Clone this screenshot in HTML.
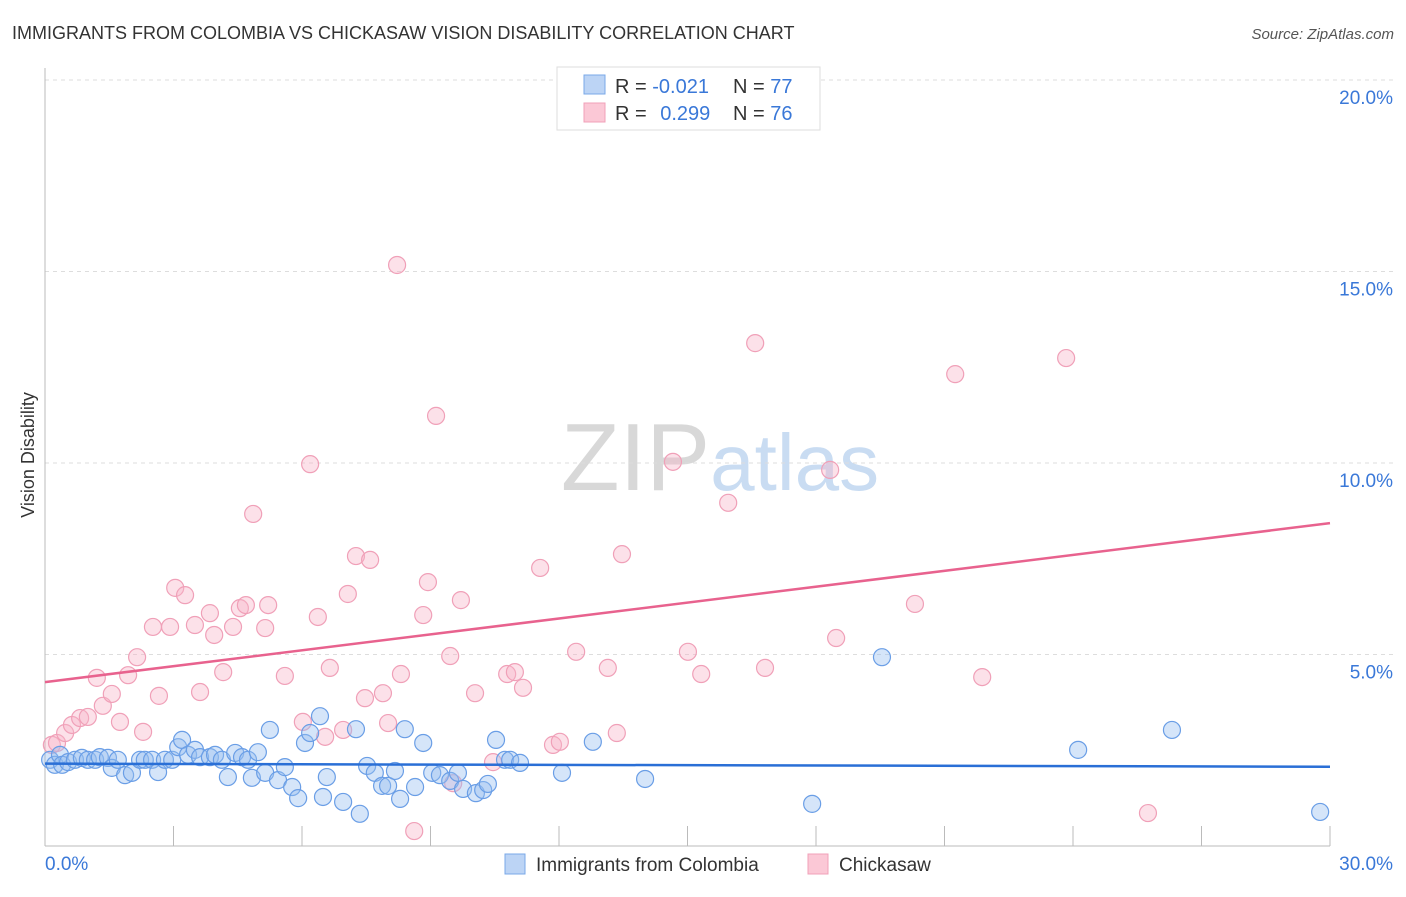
<!DOCTYPE html>
<html><head><meta charset="utf-8"><style>
body{margin:0;background:#fff;font-family:"Liberation Sans",sans-serif;}
svg text{font-family:"Liberation Sans",sans-serif;}
</style></head><body>
<svg id="chart" width="1406" height="892" xmlns="http://www.w3.org/2000/svg">
<text x="12" y="39" font-size="18" fill="#333">IMMIGRANTS FROM COLOMBIA VS CHICKASAW VISION DISABILITY CORRELATION CHART</text>
<text x="1394" y="39" font-size="15" fill="#555" font-style="italic" text-anchor="end">Source: ZipAtlas.com</text>
<text x="720" y="490" font-size="96" text-anchor="middle" fill="#ddd" font-family="Liberation Serif"><tspan fill="#d8d8d8">ZIP</tspan><tspan fill="#c9dcf2" font-family="Liberation Sans" font-size="80">atlas</tspan></text>
<text transform="translate(34,455) rotate(-90)" font-size="18" fill="#333" text-anchor="middle">Vision Disability</text>
<g id="grid"></g><g id="axes"></g><g id="marks"></g>
<g>
<rect x="557" y="67" width="263" height="63" fill="#fff" stroke="#ddd"/>
<rect x="584" y="75" width="21" height="19" fill="#bcd4f5" stroke="#7aa8e8"/>
<rect x="584" y="103" width="21" height="19" fill="#fbc8d6" stroke="#f0a0b8"/>
<text x="615" y="93" font-size="20" fill="#333">R = <tspan fill="#3a78d8">-0.021</tspan></text>
<text x="733" y="93" font-size="20" fill="#333">N = <tspan fill="#3a78d8">77</tspan></text>
<text x="615" y="120" font-size="20" fill="#333">R = <tspan fill="#3a78d8" dx="8">0.299</tspan></text>
<text x="733" y="120" font-size="20" fill="#333">N = <tspan fill="#3a78d8">76</tspan></text>
</g>
<g>
<rect x="505" y="854" width="20" height="20" fill="#bcd4f5" stroke="#7aa8e8"/>
<text x="536" y="871" font-size="19" fill="#333">Immigrants from Colombia</text>
<rect x="808" y="854" width="20" height="20" fill="#fbc8d6" stroke="#f0a0b8"/>
<text x="839" y="871" font-size="19" fill="#333">Chickasaw</text>
</g>
</svg>
<script>
const yTicks=[5,10,15,20];
const yTickLabels=["5.0%","10.0%","15.0%","20.0%"];
const xTickLabels=["0.0%","30.0%"];
const blueX=[0.12,0.23,0.35,0.40,0.54,0.70,0.86,1.00,1.17,1.28,1.47,1.56,1.70,1.87,2.03,2.22,2.33,2.50,2.64,2.80,2.97,3.11,3.20,3.34,3.50,3.62,3.85,3.97,4.13,4.27,4.44,4.60,4.74,4.83,4.97,5.14,5.25,5.44,5.60,5.77,5.91,6.07,6.19,6.42,6.49,6.58,6.96,7.26,7.35,7.52,7.70,7.87,8.01,8.17,8.29,8.40,8.64,8.83,9.04,9.22,9.46,9.64,9.76,10.06,10.23,10.34,10.53,10.74,10.86,11.09,12.07,12.79,14.01,17.91,19.54,24.12,26.31,29.77];
const blueY=[2.25,2.12,2.38,2.12,2.19,2.25,2.30,2.25,2.25,2.32,2.30,2.04,2.25,1.85,1.91,2.25,2.25,2.25,1.93,2.25,2.25,2.58,2.77,2.38,2.51,2.32,2.32,2.38,2.25,1.80,2.43,2.32,2.25,1.78,2.45,1.91,3.03,1.72,2.06,1.54,1.25,2.69,2.95,3.39,1.28,1.80,1.15,3.05,0.84,2.09,1.91,1.57,1.57,1.96,1.23,3.05,1.54,2.69,1.91,1.85,1.70,1.91,1.49,1.38,1.46,1.62,2.77,2.25,2.25,2.17,1.91,2.72,1.75,1.10,4.93,2.51,3.03,0.89];
const pinkX=[0.16,0.28,0.47,0.63,0.82,1.00,1.21,1.35,1.56,1.75,1.94,2.15,2.29,2.52,2.66,2.92,3.04,3.27,3.50,3.62,3.85,3.95,4.16,4.39,4.55,4.69,4.86,5.14,5.21,5.60,6.02,6.19,6.37,6.54,6.65,6.96,7.07,7.26,7.47,7.59,7.89,8.01,8.22,8.31,8.62,8.83,8.94,9.13,9.46,9.71,10.04,10.46,10.79,10.97,11.16,11.56,11.86,12.02,12.40,13.14,13.35,13.47,14.66,15.01,15.32,15.95,16.58,16.81,18.33,18.47,20.31,21.25,21.88,23.84,25.75,9.53];
const pinkY=[2.64,2.69,2.95,3.16,3.34,3.37,4.39,3.66,3.97,3.24,4.46,4.93,2.98,5.72,3.92,5.72,6.74,6.55,5.77,4.02,6.08,5.51,4.54,5.72,6.21,6.29,8.67,5.69,6.29,4.44,3.24,9.97,5.98,2.85,4.65,3.03,6.58,7.57,3.86,7.47,3.99,3.21,15.17,4.49,0.39,6.03,6.89,11.23,4.96,6.42,3.99,2.19,4.49,4.54,4.13,7.26,2.64,2.72,5.07,4.65,2.95,7.62,10.03,5.07,4.49,8.96,13.13,4.65,9.82,5.43,6.32,12.32,4.41,12.74,0.86,1.64];
const blueTrend=[2.15,2.07];
const pinkTrend=[4.28,8.43];

const NS="http://www.w3.org/2000/svg";
const X0=45,X1=1330,Y0=846,YT=80;
const sx=v=>X0+v/30*(X1-X0);
const sy=v=>Y0-v/20*(Y0-YT);
function mk(t,a,p){const e=document.createElementNS(NS,t);for(const k in a)e.setAttribute(k,a[k]);p.appendChild(e);return e;}
const grid=document.getElementById('grid'),axes=document.getElementById('axes'),marks=document.getElementById('marks');
yTicks.forEach((t,i)=>{
 const l=mk('line',{x1:X0,x2:1395,y1:sy(t),y2:sy(t),stroke:'#ddd','stroke-dasharray':'4,4'},grid);
 
 
 const tx=mk('text',{x:1393,y:sy(t)+24,'font-size':19,fill:'#3a78d8','text-anchor':'end'},axes);
 tx.textContent=yTickLabels[i];
 
 
});
const ax=mk('line',{x1:X0,x2:X1,y1:Y0,y2:Y0,stroke:'#bbb'},axes);


const ay=mk('line',{x1:X0,x2:X0,y1:68,y2:Y0,stroke:'#bbb'},axes);


for(let i=1;i<=10;i++){
 const t=mk('line',{x1:sx(i*3),x2:sx(i*3),y1:826,y2:Y0,stroke:'#bbb'},axes);
 
 
}
[[0,'start',45],[30,'end',1393]].forEach((d,i)=>{
 const tx=mk('text',{x:d[2],y:870,'font-size':19,fill:'#3a78d8','text-anchor':d[1]},axes);
 tx.textContent=xTickLabels[i];
 
 
});
function pts(xs,ys,fill,stroke,name){
 xs.forEach((x,i)=>{
  const c=mk('circle',{cx:sx(x),cy:sy(ys[i]),r:8.5,fill:fill,stroke:stroke,'stroke-width':1.2},marks);
  
  
 });
}
pts(pinkX,pinkY,'rgba(248,180,200,0.4)','#f0a0b8','chickasaw-point');
pts(blueX,blueY,'rgba(150,190,240,0.4)','#6a9ee6','colombia-point');
const bl=mk('line',{x1:sx(0),x2:sx(30),y1:sy(blueTrend[0]),y2:sy(blueTrend[1]),stroke:'#2a6fd6','stroke-width':2.5},marks);


const pl=mk('line',{x1:sx(0),x2:sx(30),y1:sy(pinkTrend[0]),y2:sy(pinkTrend[1]),stroke:'#e8628e','stroke-width':2.5},marks);


</script>
</body></html>
